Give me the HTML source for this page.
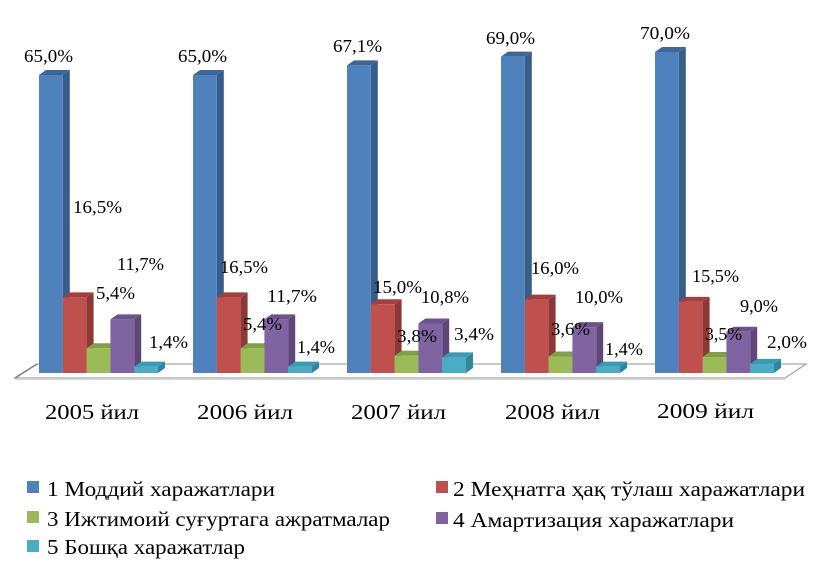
<!DOCTYPE html>
<html><head><meta charset="utf-8"><style>
html,body{margin:0;padding:0;background:#fff;}
svg{display:block;}
text{font-family:"Liberation Serif","DejaVu Serif",serif;fill:#000;}
</style></head><body>
<svg width="823" height="572" viewBox="0 0 823 572" xmlns="http://www.w3.org/2000/svg">
<rect width="823" height="572" fill="#fff"/>
<!-- floor -->
<polygon points="15,378 785,378 806,364 37,364" fill="#fff" stroke="#a6a6a6" stroke-width="1.3"/>
<line x1="15" y1="379.5" x2="785" y2="379.5" stroke="#d9d9d9" stroke-width="1"/>
<line x1="15" y1="378" x2="37" y2="364" stroke="#7f7f7f" stroke-width="1.5"/>
<g id="bars"></g>
<g font-size="18">
<text x="24" y="62" textLength="49" lengthAdjust="spacingAndGlyphs">65,0%</text>
<text x="73" y="213" textLength="49" lengthAdjust="spacingAndGlyphs">16,5%</text>
<text x="96" y="299" textLength="39" lengthAdjust="spacingAndGlyphs">5,4%</text>
<text x="117" y="270" textLength="47" lengthAdjust="spacingAndGlyphs">11,7%</text>
<text x="149" y="348" textLength="39" lengthAdjust="spacingAndGlyphs">1,4%</text>

<text x="178" y="62" textLength="49" lengthAdjust="spacingAndGlyphs">65,0%</text>
<text x="220" y="273" textLength="48" lengthAdjust="spacingAndGlyphs">16,5%</text>
<text x="267" y="302" textLength="50" lengthAdjust="spacingAndGlyphs">11,7%</text>
<text x="297" y="353" textLength="38" lengthAdjust="spacingAndGlyphs">1,4%</text>

<text x="333" y="52" textLength="49" lengthAdjust="spacingAndGlyphs">67,1%</text>
<text x="373" y="293" textLength="49" lengthAdjust="spacingAndGlyphs">15,0%</text>
<text x="421" y="303" textLength="48" lengthAdjust="spacingAndGlyphs">10,8%</text>
<text x="454" y="340" textLength="40" lengthAdjust="spacingAndGlyphs">3,4%</text>

<text x="486" y="44" textLength="49" lengthAdjust="spacingAndGlyphs">69,0%</text>
<text x="531" y="274" textLength="48" lengthAdjust="spacingAndGlyphs">16,0%</text>
<text x="575" y="303" textLength="48" lengthAdjust="spacingAndGlyphs">10,0%</text>
<text x="605" y="355" textLength="38" lengthAdjust="spacingAndGlyphs">1,4%</text>

<text x="640" y="39" textLength="50" lengthAdjust="spacingAndGlyphs">70,0%</text>
<text x="692" y="282" textLength="47" lengthAdjust="spacingAndGlyphs">15,5%</text>
<text x="740" y="312" textLength="38" lengthAdjust="spacingAndGlyphs">9,0%</text>
<text x="767" y="348" textLength="40" lengthAdjust="spacingAndGlyphs">2,0%</text>
</g>
<g font-size="21">
<text x="45" y="419" textLength="94" lengthAdjust="spacingAndGlyphs">2005 йил</text>
<text x="197" y="419" textLength="96" lengthAdjust="spacingAndGlyphs">2006 йил</text>
<text x="351" y="419" textLength="95" lengthAdjust="spacingAndGlyphs">2007 йил</text>
<text x="505" y="419" textLength="95" lengthAdjust="spacingAndGlyphs">2008 йил</text>
<text x="657" y="418" textLength="97" lengthAdjust="spacingAndGlyphs">2009 йил</text>
</g>
<!-- legend -->
<rect x="27" y="481" width="12" height="12" fill="#4F81BD"/>
<rect x="27" y="511" width="12" height="12" fill="#9BBB59"/>
<rect x="27" y="540" width="12" height="12" fill="#4BACC6"/>
<rect x="436" y="481" width="12" height="12" fill="#C0504D"/>
<rect x="436" y="512" width="12" height="12" fill="#8064A2"/>
<g font-size="21">
<text x="47" y="496" textLength="228" lengthAdjust="spacingAndGlyphs">1 Моддий харажатлари</text>
<text x="47" y="526" textLength="343" lengthAdjust="spacingAndGlyphs">3 Ижтимоий суғуртага ажратмалар</text>
<text x="47" y="554" textLength="198" lengthAdjust="spacingAndGlyphs">5 Бошқа харажатлар</text>
<text x="453" y="496" textLength="352" lengthAdjust="spacingAndGlyphs">2 Меҳнатга ҳақ тўлаш харажатлари</text>
<text x="453" y="527" textLength="281" lengthAdjust="spacingAndGlyphs">4 Амартизация харажатлари</text>
</g>
<!-- labels that overlap bars drawn after bars -->
<g id="late" font-size="18">
<text x="243" y="330" textLength="39" lengthAdjust="spacingAndGlyphs">5,4%</text>
<text x="397" y="342" textLength="40" lengthAdjust="spacingAndGlyphs">3,8%</text>
<text x="551" y="335" textLength="39" lengthAdjust="spacingAndGlyphs">3,6%</text>
<text x="705" y="340" textLength="37" lengthAdjust="spacingAndGlyphs">3,5%</text>
</g>
<script>
(function(){
var NS="http://www.w3.org/2000/svg";
var g=document.getElementById("bars");
var data=[[65,16.5,5.4,11.7,1.4],[65,16.5,5.4,11.7,1.4],[67.1,15,3.8,10.8,3.4],[69,16,3.6,10,1.4],[70,15.5,3.5,9,2]];
var cols=[["#4F81BD","#385D8A","#3E6699"],["#C0504D","#8C3836","#A3403D"],["#9BBB59","#71893F","#80A046"],["#8064A2","#5C4776","#6C5489"],["#4BACC6","#31859C","#3A9AB3"]];
var bottom=373,k=4.585,w=23.8,dx=7,dy=5;
function poly(pts,fill){var p=document.createElementNS(NS,"polygon");p.setAttribute("points",pts);p.setAttribute("fill",fill);g.appendChild(p);}
for(var i=0;i<5;i++){
 var x0=39+154*i;
 for(var j=0;j<5;j++){
  var x=x0+j*w, top=bottom-data[i][j]*k, c=cols[j];
  poly((x+w)+","+top+" "+(x+w+dx)+","+(top-dy)+" "+(x+w+dx)+","+(bottom-dy)+" "+(x+w)+","+bottom,c[1]);
  poly(x+","+top+" "+(x+dx)+","+(top-dy)+" "+(x+w+dx)+","+(top-dy)+" "+(x+w)+","+top,c[2]);
  poly(x+","+top+" "+(x+w)+","+top+" "+(x+w)+","+bottom+" "+x+","+bottom,c[0]);
 }
}
})();
</script>
</svg>
</body></html>
